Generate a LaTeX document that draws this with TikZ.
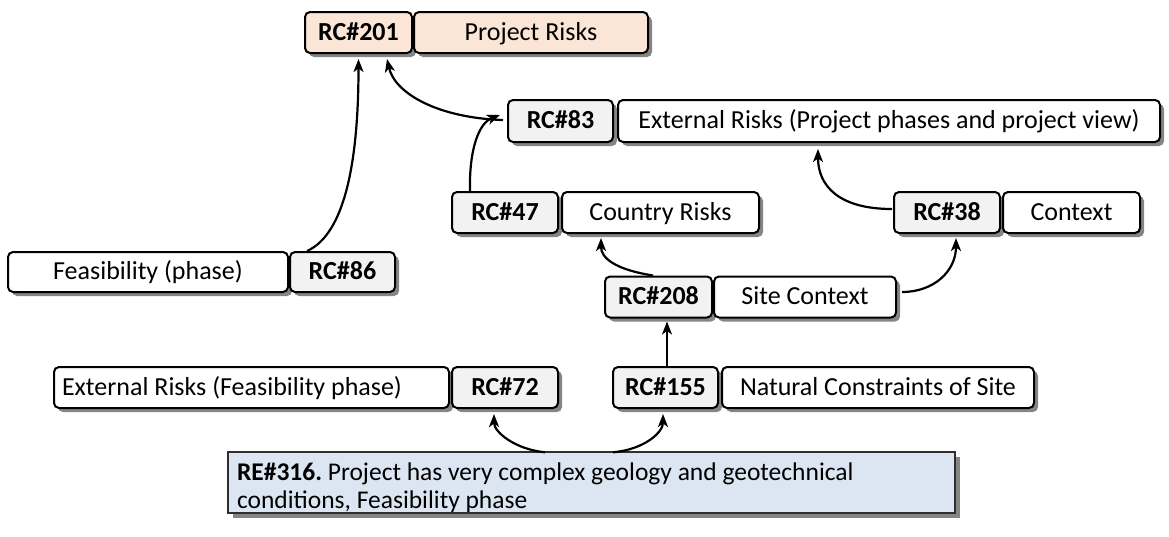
\documentclass[tikz,border=0pt]{standalone}
\usepackage{fontspec}
\setmainfont{Carlito}
\usetikzlibrary{shadows,arrows.meta}
\definecolor{codefill}{HTML}{F2F2F2}
\definecolor{peach}{HTML}{FBE5D6}
\definecolor{reblue}{HTML}{DCE6F2}
\definecolor{shadowgray}{HTML}{858585}
\definecolor{reborder}{HTML}{2F2F2F}
\begin{document}
\begin{tikzpicture}[x=1pt,y=-1pt,
  box/.style={draw=black, line width=2pt, rounded corners=5pt, inner sep=0pt,
    minimum height=41pt, text height=15.5pt, text depth=0pt,
    font=\fontsize{26}{30}\selectfont,
    drop shadow={shadow xshift=4pt, shadow yshift=-4pt, fill=shadowgray, opacity=1}},
  codebox/.style={box, fill=codefill, font=\fontsize{26}{30}\selectfont\bfseries},
  txtbox/.style={box, fill=white},
  arr/.style={-{Stealth[length=13pt,width=10pt,inset=3.5pt]}, line width=2.2pt}
]
\useasboundingbox (0,0) rectangle (1169,536);

\node[codebox, fill=peach, minimum width=107pt] (c201) at (358.5,32.5) {RC\#201};
\node[txtbox, fill=peach, minimum width=234pt] (t201) at (531,32.5) {Project Risks};

\node[codebox, minimum width=105pt, minimum height=42pt] (c83) at (560.5,121) {RC\#83};
\node[txtbox, minimum width=542pt, minimum height=42pt] (t83) at (889,121) {External Risks (Project phases and project view)};

\node[codebox, minimum width=106pt] (c47) at (505,212.5) {RC\#47};
\node[txtbox, minimum width=197pt] (t47) at (660.5,212.5) {Country Risks};

\node[codebox, minimum width=106pt] (c38) at (947,212.5) {RC\#38};
\node[txtbox, minimum width=137pt] (t38) at (1071.5,212.5) {Context};

\node[txtbox, minimum width=280pt, minimum height=40pt] (tF) at (148,272) {Feasibility (phase)};
\node[codebox, minimum width=105pt, minimum height=40pt] (c86) at (342.5,272) {RC\#86};

\node[codebox, minimum width=107pt] (c208) at (658.5,297) {RC\#208};
\node[txtbox, minimum width=182pt] (t208) at (805,297) {Site Context};

\node[txtbox, text width=379pt, inner xsep=8pt, align=flush left] (tEF) at (251.5,387.5) {External Risks (Feasibility phase)};
\node[codebox, minimum width=106pt] (c72) at (505,387.5) {RC\#72};

\node[codebox, minimum width=105pt] (c155) at (665.5,387.5) {RC\#155};
\node[txtbox, minimum width=312pt] (t155) at (878,387.5) {Natural Constraints of Site};

\node[draw=reborder, line width=1.4pt, fill=reblue, inner xsep=9pt, inner ysep=0pt,
  text width=709pt, text height=28pt, text depth=33pt, align=flush left,
  font=\fontsize{25.5}{28}\selectfont,
  drop shadow={shadow xshift=4.5pt, shadow yshift=-4.5pt, fill=shadowgray, opacity=1}]
  (re) at (591.5,482.5) {\frenchspacing\textbf{RE\#316.} Project has very complex geology and geotechnical\\conditions, Feasibility phase};

% connectors
\draw[arr] ([xshift=-35.5pt]c86.north) .. controls +(38,-17) and +(0,102) .. ([yshift=-5pt]c201.south);
\draw[arr] ([xshift=-4pt,yshift=1pt]c83.west) .. controls +(-64,-2) and +(8,35) .. ([xshift=28.5pt,yshift=-5pt]c201.south);
\draw[arr] ([xshift=-35pt]c47.north) .. controls +(-1,-42) and +(-21,8) .. ([xshift=-7pt,yshift=6pt]c83.west);
\draw[arr] ([xshift=-1pt,yshift=3.5pt]c38.west) .. controls +(-53,0) and +(0,37) .. ([xshift=-71pt,yshift=-6pt]t83.south);
\draw[arr] ([xshift=5pt,yshift=5pt]t208.east) .. controls +(32,0) and +(0,33) .. ([xshift=9pt,yshift=-4pt]c38.south);
\draw[arr] ([xshift=-5.5pt]c208.north) .. controls +(-38,-6) and +(0,20) .. ([xshift=-59.5pt,yshift=-4pt]t47.south);
\draw[arr] ([xshift=1.5pt]c155.north) -- ([xshift=1.5pt,yshift=-3pt]c155.north |- c208.south);
\draw[arr] ([xshift=-46.5pt,yshift=-1pt]re.north) .. controls +(-30,-3) and +(0,18) .. ([xshift=-11pt,yshift=-5pt]c72.south);
\draw[arr] ([xshift=21.5pt,yshift=-1pt]re.north) .. controls +(32,-3) and +(0,18) .. ([xshift=-2.5pt,yshift=-5pt]c155.south);
\end{tikzpicture}
\end{document}
